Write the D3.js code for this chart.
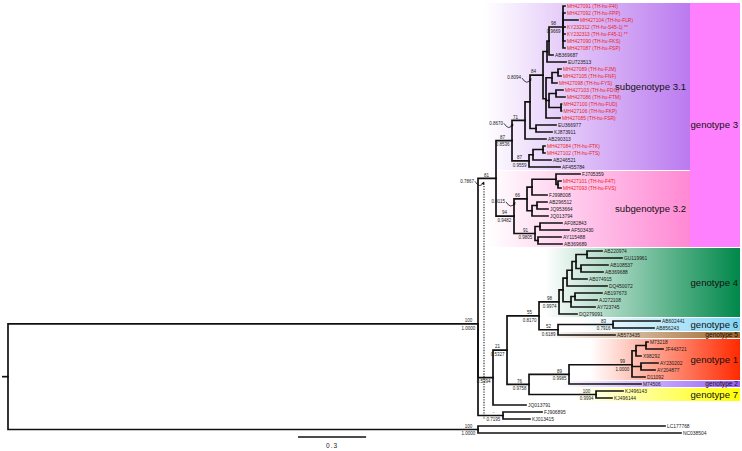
<!DOCTYPE html>
<html><head><meta charset="utf-8">
<script src="https://cdn.jsdelivr.net/npm/d3@7"></script>
<style>body{margin:0;background:#fff}svg{display:block}</style>
</head><body>
<svg id="c" width="742" height="451"></svg>
<script>
// ---------------- data ----------------
// branch lengths: substitutions / site ; internal labels: bootstrap/posterior ("*" = label drawn with arrow)
const nN98 = "(MH427091:0.0088,MH427092:0.0088,MH427104:0.0661,KY232312:0.0088,KY232313:0.0088,MH427090:0.0088,MH427087:0.0088)98/0.9669:0.0617";
const nM   = "((" + nN98 + ",AB369687:0.0176):0.0088,EU723513:0.0837):0.0176";
const nP   = "((MH427089:0.0132,MH427105:0.0132):0.0264,MH427098:0.0220):0.0264";
const nT   = "((MH427103:0.0308,MH427086:0.0396):0.0308,(MH427100:0.0022,MH427106:0.0022):0.0529):0.0132";
const nJ   = "(" + nM + ",(" + nP + "," + nT + ",MH427085:0.0617):0.0132)84/0.8094*:0.0573";
const nH   = "((" + nJ + ",(EU366977:0.0881,KJ873911:0.0705):0.0264):0.0220,AB290313:0.0925)71/0.8670*:0.0573";
const nI   = "(((MH427084:0.0088,MH427102:0.0088):0.0441,AB246521:0.0793):0.0176,AF455784:0.1366)87/0.9559:0.0749";
const nF   = "(" + nH + "," + nI + ")87/0.8536:0.0705";
const nW   = "(((FJ705359:0.1057,(MH427101:0.0132,MH427093:0.0132):0.0088):0.1057,FJ998008:0.0661):0.0220,((AB296512:0.0441,JQ953664:0.0485):0.0220,JQ013794:0.0705):0.0220)66/0.9115*:0.0573";
const nN91 = "((AF082843:0.0969,AF503430:0.1278):0.0220,(AY115488:0.1013,AB369689:0.1057):0.0132)91/0.9805:0.0925";
const nG   = "(" + nW + "," + nN91 + ")94/0.9482:0.0793";
const nC   = "(" + nF + "," + nG + ")81/0.7867*:0.0793";
const nG4e = "((AB220974:0.0661,GU119961:0.1542):0.0485,(AB108537:0.1189,AB369688:0.0969):0.0220):0.0176";
const nG4b = "((" + nG4e + ",AB074915:0.0661):0.0220,DQ450072:0.1762):0.0176";
const nG4c = "((AB197673:0.1189,AJ272108:0.0969):0.0176,AY723745:0.1057):0.0352";
const nG4  = "((" + nG4b + "," + nG4c + "):0.0176,DQ279091:0.0793)98/0.9974:0.0881";
const nG65 = "((AB602441:0.2070,AB856243:0.1806)83/0.7916:0.2423,AB573435:0.2511)52/0.6189:0.0837";
const nG1  = "(((M73218:0.0088,JF443721:0.0749):0.0441,X98292:0.0220):0.0176,(AY230202:0.0749,AY204877:0.0617):0.0396,D11092:0.0573)99/1.0000:0.2775";
const nD4  = "((" + nG1 + ",M74506:0.3172)89/0.9985:0.1762,(KJ496143:0.1189,KJ496144:0.0705)100/0.9994:0.2952)76/0.9758:0.0969";
const nD   = "(((" + nG4 + "," + nG65 + ")55/0.8170:0.1410," + nD4 + ")21/0.5327:0.0617,JQ013791:0.1454)-/0.5394:0.0661";
const nE   = "(FJ906895:0.1718,KJ013415:0.1189)-/0.7195:0.1101";
const newick = "((" + nC + "," + nD + "," + nE + ")100/1.0000:2.0705,(LC177768:0.8238,NC038504:0.8943)100/1.0000:2.0705);";

const thaiIds   = ["MH427091","MH427092","MH427104","KY232312","KY232313","MH427090","MH427087","MH427089","MH427105","MH427098","MH427103","MH427086","MH427100","MH427106","MH427085","MH427084","MH427102","MH427101","MH427093"];
const thaiNames = ["TH-hu-F4I","TH-hu-FPP","TH-hu-FLR","TH-hu-S45-1","TH-hu-F45-1","TH-hu-FKS","TH-hu-FSP","TH-hu-FJM","TH-hu-FNF","TH-hu-FYS","TH-hu-FDG","TH-hu-FTM","TH-hu-FUD","TH-hu-FKP","TH-hu-FSR","TH-hu-FTK","TH-hu-FTS","TH-hu-F4T","TH-hu-FVS"];
const starredIds = ["KY232312","KY232313"];

const cladeNames  = ["subgenotype 3.1","subgenotype 3.2","genotype 4","genotype 6","genotype 5","genotype 1","genotype 2","genotype 7"];
const cladeFirst  = ["MH427091","FJ705359","AB220974","AB602441","AB573435","M73218","M74506","KJ496143"];
const cladeLast   = ["AF455784","AB369689","DQ279091","AB856243","AB573435","D11092","M74506","KJ496144"];
const cladeColors = ["#bb7aef","#ff88d4","#00884a","#80d4f4","#a0642a","#ff2a00","#9a5cf4","#ffff00"];
const genotype3   = {name:"genotype 3", first:"MH427091", last:"AB369689", color:"#ff80ff"};
const scaleBarValue = 0.3;

// ---------------- layout ----------------
const cladeX0 = [484, 487, 545, 580, 545, 590, 560, 575];
const cladeX1 = [690, 690, 740, 740, 740, 740, 740, 740];
const smallLabel = [false,false,false,false,true,false,true,false];
const FONT = "Liberation Sans, Arial, Helvetica, sans-serif";

function parseNewick(s){
  let i = 0;
  function node(){
    const n = {};
    if (s[i] === "("){
      n.children = [];
      i++;
      n.children.push(node());
      while (s[i] === ","){ i++; n.children.push(node()); }
      i++;
    }
    let name = "";
    while (i < s.length && !",():;".includes(s[i])) name += s[i++];
    n.name = name;
    n.length = 0;
    if (s[i] === ":"){
      i++; let num = "";
      while (i < s.length && !",();".includes(s[i])) num += s[i++];
      n.length = +num;
    }
    return n;
  }
  return node();
}

const root = d3.hierarchy(parseNewick(newick));
root.eachBefore(d => { d.len = (d.parent ? d.parent.len : 0) + d.data.length; });
d3.cluster().size([1, 1]).separation(() => 1)(root);

const X = d3.scaleLinear().domain([0, 1]).range([8, 235]);
const Y = d3.scaleLinear().domain([0, 1]).range([2.5, 436.5]);
const step = (Y(1) - Y(0)) / root.leaves().length;

const leafByName = new Map(root.leaves().map(l => [l.data.name, l]));

const svg = d3.select("#c");
const defs = svg.append("defs");
defs.append("marker").attr("id","ah").attr("viewBox","0 0 6 6").attr("refX",5).attr("refY",3)
  .attr("markerWidth",4).attr("markerHeight",4).attr("orient","auto")
  .append("path").attr("d","M0,0L6,3L0,6Z").attr("fill","#111");

// clade backgrounds
const bg = svg.append("g");
const g3y0 = Y(leafByName.get(genotype3.first).x) - step/2 + 0.5;
const g3y1 = Y(leafByName.get(genotype3.last).x) + step/2 - 0.5;
bg.append("rect").attr("x",690).attr("y",g3y0).attr("width",50).attr("height",g3y1-g3y0).attr("fill",genotype3.color);
bg.append("text").attr("x",738).attr("y",(g3y0+g3y1)/2+3.4).attr("text-anchor","end")
  .attr("font-family",FONT).attr("font-size",9.6).attr("fill","#111").text(genotype3.name);

cladeNames.forEach((name, k) => {
  const y0 = Y(leafByName.get(cladeFirst[k]).x) - step/2 + 0.5;
  const y1 = Y(leafByName.get(cladeLast[k]).x) + step/2 - 0.5;
  const gid = "gr" + k;
  const gr = defs.append("linearGradient").attr("id",gid).attr("gradientUnits","userSpaceOnUse")
    .attr("x1",cladeX0[k]).attr("x2",cladeX1[k]).attr("y1",0).attr("y2",0);
  gr.append("stop").attr("offset",0).attr("stop-color",cladeColors[k]).attr("stop-opacity",0);
  gr.append("stop").attr("offset",1).attr("stop-color",cladeColors[k]).attr("stop-opacity",1);
  bg.append("rect").attr("x",cladeX0[k]).attr("y",y0).attr("width",cladeX1[k]-cladeX0[k]).attr("height",y1-y0)
    .attr("fill","url(#"+gid+")");
  const sub = cladeX1[k] < 700;
  bg.append("text").attr("x", sub ? 686 : 738).attr("y",(y0+y1)/2 + (smallLabel[k] ? 2.3 : 3.4))
    .attr("text-anchor","end").attr("font-family",FONT)
    .attr("font-size", smallLabel[k] ? 6.6 : 9.6).attr("fill","#111").text(name);
});

// dotted annotation line
const nodeA = root.children[0];
const nodeC = nodeA.children[0], nodeE = nodeA.children[2];
svg.append("line").attr("x1",X(nodeA.len)+6).attr("x2",X(nodeA.len)+6)
  .attr("y1",Y(nodeC.x)+5).attr("y2",Y(nodeE.x)+3)
  .attr("stroke","#222").attr("stroke-width",1.1).attr("stroke-dasharray","1.3,1.3");

// branches
svg.append("g").selectAll("path").data(root.links()).join("path")
  .attr("d", l => `M${X(l.source.len)},${Y(l.source.x)}V${Y(l.target.x)}H${X(l.target.len)}`)
  .attr("fill","none").attr("stroke","#111").attr("stroke-width",1.7).attr("stroke-linecap","square");
svg.append("path").attr("d",`M${X(0)-6},${Y(root.x)}H${X(0)}`).attr("stroke","#111").attr("stroke-width",1.7);

// leaf labels
const thai = new Map(thaiIds.map((id,i)=>[id,thaiNames[i]]));
svg.append("g").selectAll("text").data(root.leaves()).join("text")
  .attr("x", d => X(d.len) + 2).attr("y", d => Y(d.x) + 1.7)
  .attr("font-family",FONT).attr("font-size",4.9)
  .attr("fill", d => thai.has(d.data.name) ? "#ee1c1c" : "#1a1a1a")
  .text(d => thai.has(d.data.name)
      ? `${d.data.name} (${thai.get(d.data.name)})${starredIds.includes(d.data.name) ? " **" : ""}`
      : d.data.name);

// support labels
const sup = svg.append("g").attr("font-family",FONT).attr("font-size",4.5).attr("fill","#1a1a1a");
root.descendants().filter(d => d.children && d.data.name).forEach(d => {
  const parts = d.data.name.split("/");
  const arrow = parts[1].endsWith("*");
  const post = parts[1].replace("*","");
  const nx = X(d.len), ny = Y(d.x);
  sup.append("text").attr("x",nx-9.5).attr("y",ny-1.8).attr("text-anchor","middle").text(parts[0]);
  if (!arrow){
    sup.append("text").attr("x",nx-9.5).attr("y",ny+5.8).attr("text-anchor","middle").text(post);
  } else {
    sup.append("text").attr("x",nx-22).attr("y",ny+4.2).attr("text-anchor","end").text(post);
    svg.append("path").attr("d",`M${nx-21},${ny+3}Q${nx-16},${ny+11} ${nx-12},${ny+3.5}`)
      .attr("fill","none").attr("stroke","#111").attr("stroke-width",0.8).attr("marker-end","url(#ah)");
  }
});

// scale bar
const sb0 = 298, sbY = 437;
svg.append("line").attr("x1",sb0).attr("x2",sb0 + X(scaleBarValue)-X(0)).attr("y1",sbY).attr("y2",sbY)
  .attr("stroke","#111").attr("stroke-width",1.3);
svg.append("text").attr("x",sb0 + (X(scaleBarValue)-X(0))/2).attr("y",sbY+11).attr("text-anchor","middle")
  .attr("font-family",FONT).attr("font-size",6.5).attr("letter-spacing",1).attr("fill","#222").text(String(scaleBarValue));
</script>
</body></html>
